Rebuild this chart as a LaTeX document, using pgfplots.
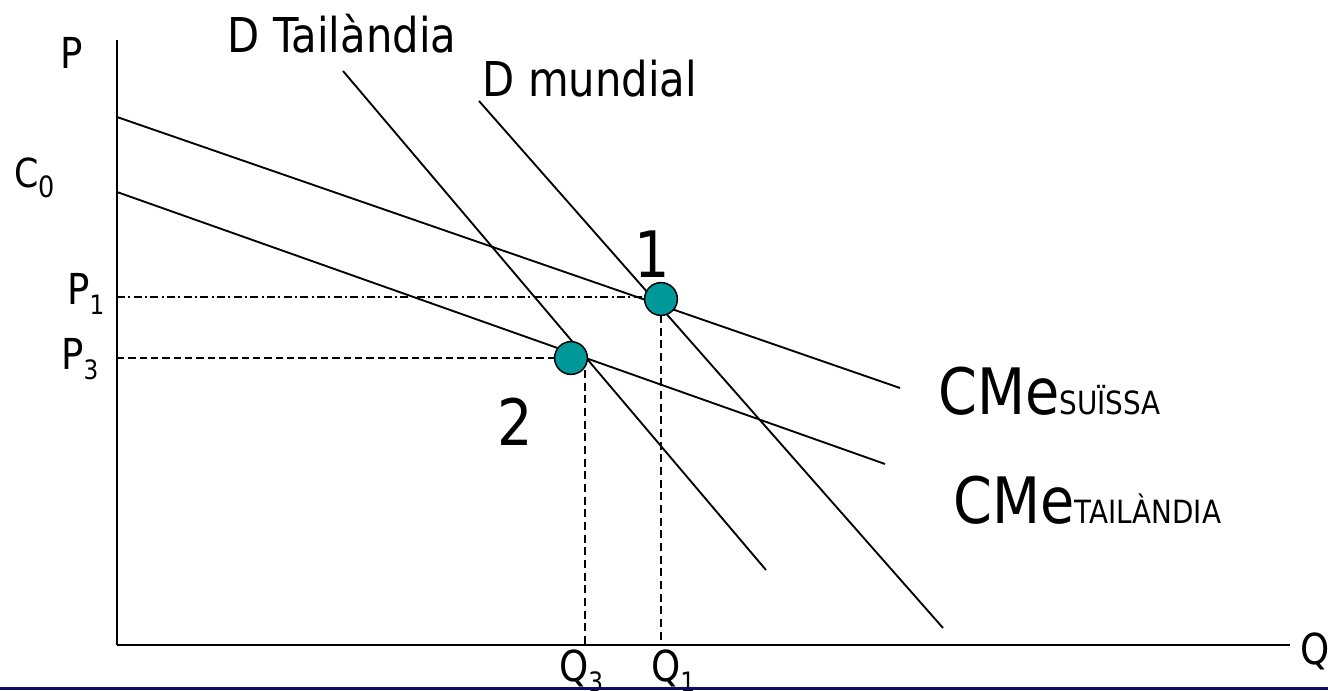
\documentclass[border=0pt]{standalone}
\usepackage{fontspec}
\setmainfont{DejaVu Sans}[FakeStretch=0.87]
\usepackage{pgfplots}
\pgfplotsset{compat=1.18}
\definecolor{tealc}{RGB}{0,153,153}
\definecolor{navyc}{RGB}{12,12,100}
\newcommand{\fs}[1]{\fontsize{#1}{#1}\selectfont}
\begin{document}
\begin{tikzpicture}
\useasboundingbox (0,0) rectangle (996pt,517.5pt);
\clip (0,0) rectangle (996pt,517.5pt);
\begin{axis}[at={(0,0)},anchor=south west,scale only axis,
  width=996pt,height=517.5pt,
  xmin=0,xmax=1328,ymin=0,ymax=690,
  axis lines=none,clip=false]
% axes
\addplot[black,line width=1.5pt] coordinates {(117,650) (117,45)};
\addplot[black,line width=2pt] coordinates {(117,45) (1290,45)};
% CMe Suissa
\addplot[black,line width=1.4pt] coordinates {(117,573) (900,302)};
% CMe Tailandia
\addplot[black,line width=1.4pt] coordinates {(117,498) (885,226)};
% D Tailandia
\addplot[black,line width=1.4pt] coordinates {(343,619) (766,120)};
% D mundial
\addplot[black,line width=1.4pt] coordinates {(479,589) (943,62)};
% dashed guides
\addplot[black,line width=1.1pt,dash pattern=on 5.5pt off 3pt] coordinates {(117,332) (555,332)};
\addplot[black,line width=1.1pt,dash pattern=on 6pt off 3.5pt] coordinates {(585,320) (585,45)};
\addplot[black,line width=1.1pt,dash pattern=on 6pt off 3.5pt] coordinates {(661,375) (661,45)};
% equilibrium points
\addplot[only marks,mark=*,mark size=12.3pt,mark options={fill=tealc,draw=black,line width=1.1pt}] coordinates {(661,391) (571,332)};
\addplot[black,line width=1.1pt,dash pattern=on 6pt off 2.5pt on 1.5pt off 2.5pt] coordinates {(117,393) (660,393)};
% labels
\node[anchor=base] at (axis cs:342,637) {\fs{36pt}D Tailàndia};
\node[anchor=base] at (axis cs:590,593) {\fs{36pt}D mundial};
\node[anchor=base] at (axis cs:72,621) {\fs{32pt}P};
\node[anchor=base west,inner sep=0pt] at (axis cs:14,502) {\fs{30pt}C\fs{22pt}\raisebox{-7.5pt}{0}};
\node[anchor=base west,inner sep=0pt] at (axis cs:67,385) {\fs{32pt}P\fs{20pt}\raisebox{-7.5pt}{1}};
\node[anchor=base west,inner sep=0pt] at (axis cs:61,320) {\fs{32pt}P\fs{20pt}\raisebox{-7.5pt}{3}};
\node[anchor=base] at (axis cs:652,412) {\fs{48pt}1};
\node[anchor=base] at (axis cs:515,244) {\fs{48pt}2};
\node[anchor=base west,inner sep=0pt] at (axis cs:938,275) {\fs{48pt}CMe\fs{24pt}SUÏSSA};
\node[anchor=base west,inner sep=0pt] at (axis cs:953,167) {\fs{48pt}CMe\fs{24pt}TAILÀNDIA};
\node[anchor=base west,inner sep=0pt] at (axis cs:559,9) {\fs{32pt}Q\fs{20pt}\raisebox{-7.5pt}{3}};
\node[anchor=base west,inner sep=0pt] at (axis cs:651,9) {\fs{32pt}Q\fs{20pt}\raisebox{-7.5pt}{1}};
\node[anchor=base west,inner sep=0pt] at (axis cs:1300,26) {\fs{32pt}Q};
% bottom bar
\addplot[fill=navyc,draw=none] coordinates {(0,3.5) (1328,3.5)} \closedcycle;
\end{axis}
\end{tikzpicture}
\end{document}
